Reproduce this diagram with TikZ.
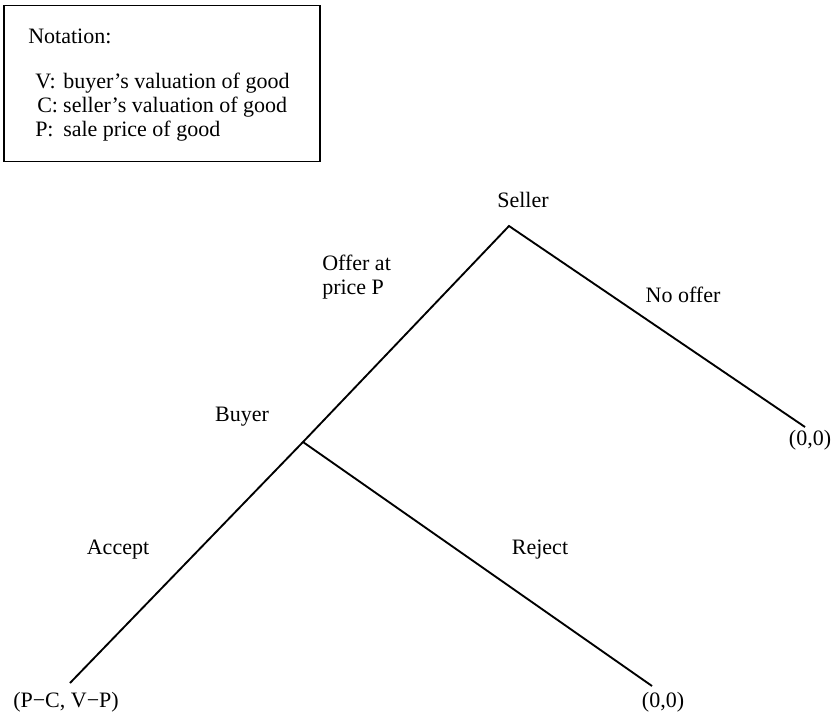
\documentclass[tikz,border=0pt]{standalone}
\usepackage{fontspec}
\setmainfont{Liberation Serif}
\begin{document}
\begin{tikzpicture}[x=0.75pt,y=-0.75pt,
  txt/.style={inner sep=0pt,font=\fontsize{16.5}{18}\selectfont},
  branch/.style={line width=1.4pt},
  notebox/.style={draw,line width=1.4pt,minimum width=237pt,minimum height=117pt,inner sep=0pt}]
\useasboundingbox (0,0) rectangle (831,714);
% notation box
\node[notebox] (box) at (162,83.5) {};
\node[txt,anchor=west] (nt) at (28,36) {Notation:};
\node[txt,anchor=west] (nv) at (35,83) {\makebox[21pt][l]{V:}buyer’s valuation of good};
\node[txt,anchor=west] (nc) at (37,107) {\makebox[19.5pt][l]{C:}seller’s valuation of good};
\node[txt,anchor=west] (np) at (35,131) {\makebox[21pt][l]{P:}sale price of good};
% tree vertices
\coordinate (s) at (509,226);
\coordinate (b) at (303,442);
\coordinate (t1) at (805,427);
\coordinate (t2) at (70,683);
\coordinate (t3) at (652,686);
\draw[branch] (t2) -- (b) -- (s) -- (t1);
\draw[branch] (b) -- (t3);
% labels
\node[txt] (ls) at (523,200) {Seller};
\node[txt,anchor=west,align=left] (lo) at (322,277) {Offer at\\price P};
\node[txt] (ln) at (683,295) {No offer};
\node[txt] (lb) at (242,417) {Buyer};
\node[txt] (la) at (118,550) {Accept};
\node[txt] (lr) at (540,550) {Reject};
\node[txt] (p1) at (810,440) {(0,0)};
\node[txt] (p2) at (663,702) {(0,0)};
\node[txt] (p3) at (66,702) {(P−C, V−P)};
\end{tikzpicture}
\end{document}
